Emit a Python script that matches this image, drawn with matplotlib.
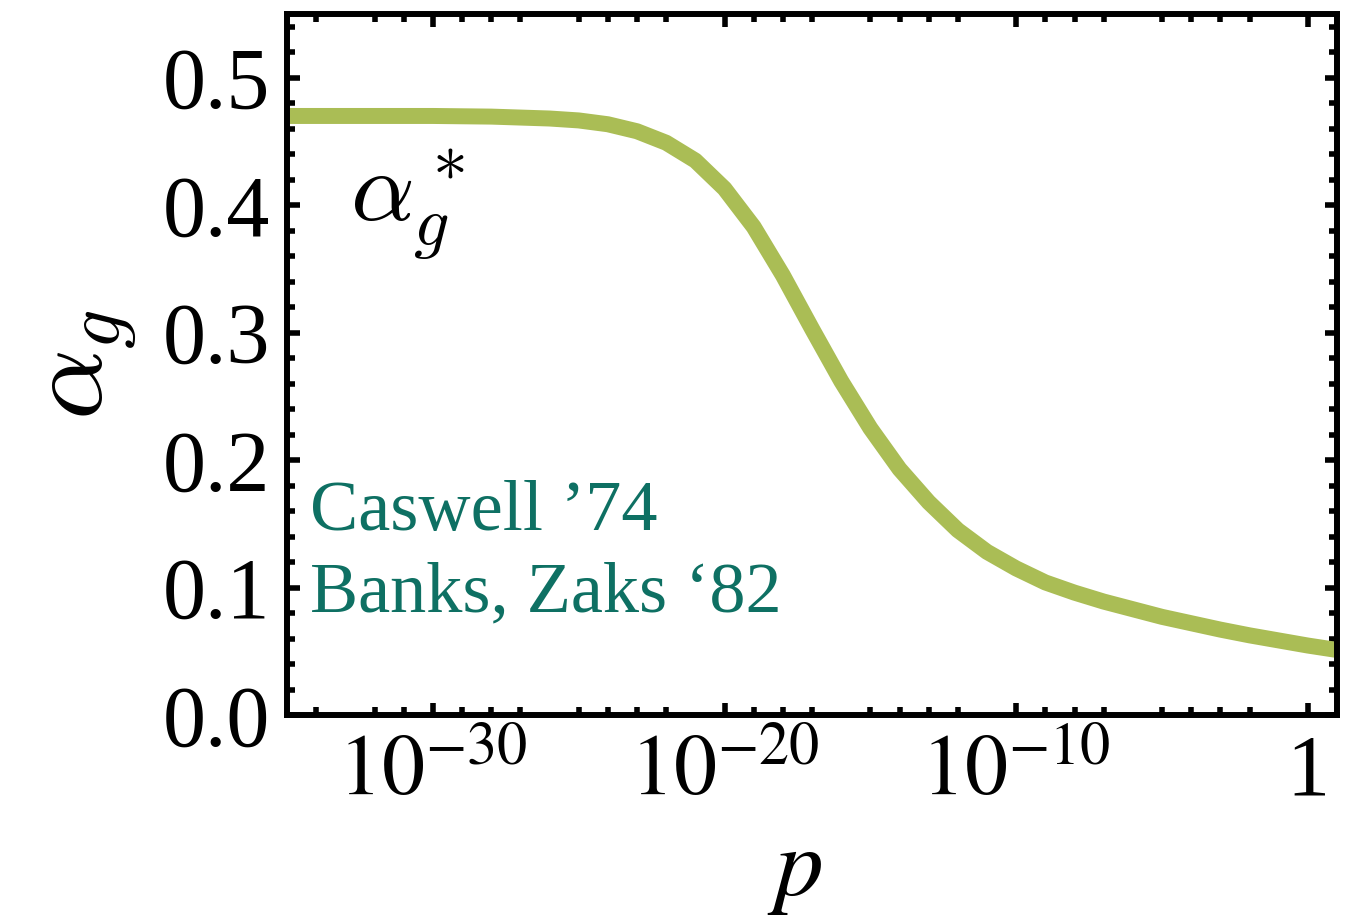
import matplotlib.pyplot as plt
import numpy as np
from matplotlib.ticker import FixedLocator, NullFormatter

plt.rcParams['mathtext.fontset'] = 'stix'
plt.rcParams['font.family'] = ['Liberation Serif', 'DejaVu Serif']

# running coupling vs momentum scale (log10 p, alpha_g)
log_p = [-35, -30, -28, -26, -25, -24, -23, -22, -21, -20, -19, -18, -17,
         -16, -15, -14, -13, -12, -11, -10, -9, -8, -7, -6, -5, -4, -3,
         -2, -1, 0, 1]
alpha_g = [0.470, 0.470, 0.4695, 0.468, 0.4665, 0.4635, 0.458, 0.449, 0.435,
           0.413, 0.383, 0.345, 0.303, 0.262, 0.225, 0.193, 0.167, 0.145,
           0.128, 0.115, 0.104, 0.096, 0.089, 0.083, 0.077, 0.072, 0.067,
           0.0625, 0.0585, 0.0545, 0.051]

major_exp = [-30, -20, -10, 0]
major_labels = [r'$10^{-30}$', r'$10^{-20}$', r'$10^{-10}$', '1']
minor_exp = [-34, -32, -31, -29, -28, -27, -25, -24, -23, -22,
             -19, -18, -17, -15, -14, -13, -12, -9, -8, -7, -5, -4, -3, -2]
refs = ["Caswell \u201974", "Banks, Zaks \u201882"]

line_color = '#aabd55'
ref_color = '#0e7063'

fig = plt.figure(figsize=(13.58, 9.17), dpi=100)
ax = fig.add_axes([287 / 1358, 1 - 715 / 917, 1050 / 1358, 701 / 917])

p = 10.0 ** np.array(log_p, dtype=float)
ax.plot(p, alpha_g, color=line_color, lw=11.5, solid_capstyle='butt',
        solid_joinstyle='round')

ax.set_xscale('log')
ax.set_xlim(1e-35, 1e1)
ax.set_ylim(0, 0.55)

ax.xaxis.set_major_locator(FixedLocator([10.0 ** e for e in major_exp]))
ax.set_xticklabels(major_labels)
ax.xaxis.set_minor_locator(FixedLocator([10.0 ** e for e in minor_exp]))
ax.xaxis.set_minor_formatter(NullFormatter())

ax.set_yticks(np.arange(0, 0.51, 0.1))
ax.set_yticklabels([f'{v:.1f}' for v in np.arange(0, 0.51, 0.1)])
ax.set_yticks(np.arange(0, 0.55, 0.02), minor=True)

for s in ax.spines.values():
    s.set_linewidth(4.3)
ax.tick_params(which='both', direction='in', top=True, right=True, width=4.0,
               labelsize=62)
ax.tick_params(which='major', length=9)
ax.tick_params(which='minor', length=6)
ax.tick_params(axis='x', pad=14)
ax.tick_params(axis='y', pad=12)

ax.text(0.060, 0.707, r'$\alpha_g^*$', transform=ax.transAxes, fontsize=72,
        va='baseline', ha='left', math_fontfamily='cm')
ax.text(0.022, 0.264, refs[0], transform=ax.transAxes, fontsize=52,
        color=ref_color, va='baseline', ha='left')
ax.text(0.022, 0.147, refs[1], transform=ax.transAxes, fontsize=52,
        color=ref_color, va='baseline', ha='left')

fig.text(0.066, 0.602, r'$\alpha_g$', rotation=90, fontsize=80,
         ha='center', va='center', math_fontfamily='cm')
fig.text(0.585, 0.024, r'$p$', fontsize=70, ha='center', va='baseline')

fig.savefig('out.png', dpi=100)
